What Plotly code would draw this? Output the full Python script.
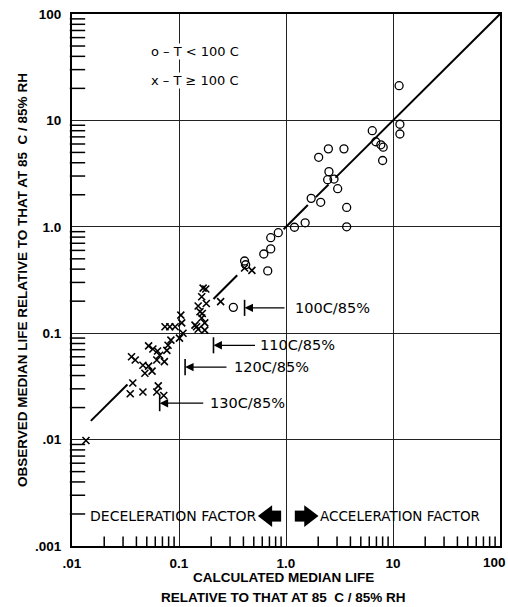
import numpy as np
import plotly.graph_objects as go

# ---------------- data ----------------
circle_x = [11.4, 11.6, 11.6, 6.4, 6.9, 7.7, 8.1, 8.0, 2.49, 3.48, 2.02, 2.52, 2.45, 2.81,
            3.04, 1.72, 2.11, 3.69, 1.51, 1.2, 3.69, 0.847, 0.72, 0.72, 0.62, 0.41, 0.42,
            0.675, 0.322]
circle_y = [21.2, 9.2, 7.45, 8.0, 6.3, 5.9, 5.6, 4.2, 5.4, 5.4, 4.5, 3.3, 2.77, 2.81,
            2.28, 1.85, 1.70, 1.52, 1.09, 0.99, 1.0, 0.88, 0.79, 0.62, 0.555, 0.477, 0.44,
            0.385, 0.175]

cross_x = [0.178, 0.163, 0.18, 0.151, 0.157, 0.165, 0.163, 0.174, 0.141, 0.151, 0.174,
           0.168, 0.146, 0.104, 0.106, 0.109, 0.101, 0.074, 0.082, 0.092, 0.084, 0.079,
           0.077, 0.052, 0.057, 0.063, 0.066, 0.062, 0.073, 0.036, 0.039, 0.046, 0.052,
           0.048, 0.056, 0.037, 0.035, 0.046, 0.064, 0.062, 0.072, 0.0135, 0.245, 0.41,
           0.48]
cross_y = [0.26, 0.22, 0.19, 0.18, 0.159, 0.153, 0.139, 0.125, 0.119, 0.109, 0.107,
           0.265, 0.115, 0.148, 0.125, 0.100, 0.090, 0.115, 0.115, 0.115, 0.086, 0.077,
           0.069, 0.076, 0.071, 0.068, 0.062, 0.056, 0.054, 0.060, 0.056, 0.050, 0.049,
           0.042, 0.044, 0.034, 0.027, 0.028, 0.032, 0.028, 0.026, 0.0098, 0.198, 0.41,
           0.39]

# y = x reference line, drawn in pieces (gaps where points sit)
diag_start = [0.015, 0.21, 0.95, 1.9, 2.9]
diag_end = [0.033, 0.35, 1.6, 2.5, 100]

# temperature markers: label, bar x, y, arrow tail x
temp_labels = ["100C/85%", "110C/85%", "120C/85%", "130C/85%"]
temp_bar_x = [0.41, 0.21, 0.114, 0.066]
temp_y = [0.173, 0.077, 0.048, 0.022]
temp_tail_x = [1.0, 0.53, 0.287, 0.174]
temp_text_x = [1.16, 0.547, 0.313, 0.187]

x_tickvals = [0.01, 0.1, 1, 10, 100]
x_ticktext = [".01", "0.1", "1.0", "10", "100"]
y_tickvals = [0.001, 0.01, 0.1, 1, 10, 100]
y_ticktext = [".001", ".01", "0.1", "1.0", "10", "100"]
minor_mult = [2, 3, 4, 5, 6, 7, 8, 9]

factor_labels = ["DECELERATION FACTOR", "ACCELERATION FACTOR"]
factor_y = 0.00191

legend_labels = ["o – T < 100 C", "x – T ≥ 100 C"]

X_RANGE = [-2, 2]
Y_RANGE = [-3, 2]
FONT = "DejaVu Sans"
BOLD = "Liberation Sans"
TICKFONT = dict(family=BOLD, size=13.5, color="black", weight="bold")


def minor_vals(lo, hi):
    return [m * 10.0 ** e for e in range(lo, hi) for m in minor_mult]


fig = go.Figure()

# diagonal
dx, dy = [], []
for a, b in zip(diag_start, diag_end):
    dx += [a, b, None]
    dy += [a, b, None]
fig.add_trace(go.Scatter(x=dx, y=dy, mode="lines", line=dict(color="black", width=2),
                         showlegend=False, hoverinfo="skip"))

fig.add_trace(go.Scatter(x=circle_x, y=circle_y, mode="markers", name="T < 100 C",
                         marker=dict(symbol="circle-open", size=8, color="black",
                                     line=dict(width=1.3)), showlegend=False))
fig.add_trace(go.Scatter(x=cross_x, y=cross_y, mode="markers", name="T ≥ 100 C",
                         marker=dict(symbol="x-thin-open", size=7, color="black",
                                     line=dict(width=1.6)), showlegend=False))

# bars for temperature markers
bx, by = [], []
for xv, yv in zip(temp_bar_x, temp_y):
    bx += [xv, xv, None]
    by += [yv / 1.19, yv * 1.19, None]
fig.add_trace(go.Scatter(x=bx, y=by, mode="lines", line=dict(color="black", width=1.6),
                         showlegend=False, hoverinfo="skip"))

annotations = []
for lab, xb, yv, xt, xtext in zip(temp_labels, temp_bar_x, temp_y, temp_tail_x, temp_text_x):
    annotations.append(dict(x=np.log10(xb), y=np.log10(yv), ax=np.log10(xt), ay=np.log10(yv),
                            xref="x", yref="y", axref="x", ayref="y", text="",
                            showarrow=True, arrowhead=2, arrowsize=1.3, arrowwidth=1.3,
                            arrowcolor="black", standoff=0))
    annotations.append(dict(x=np.log10(xtext), y=np.log10(yv), xref="x", yref="y", text=lab,
                            showarrow=False, xanchor="left", yanchor="middle",
                            font=dict(family=FONT, size=14.5, color="black")))

# big arrows for deceleration / acceleration
arrow_body_x = [0.80, 1.36]
arrow_head_x = [0.67, 1.64]
fig.add_trace(go.Scatter(x=arrow_body_x, y=[factor_y] * 2, mode="markers",
                         marker=dict(symbol="square", size=11, color="black"),
                         showlegend=False, hoverinfo="skip"))
fig.add_trace(go.Scatter(x=arrow_head_x[:1], y=[factor_y], mode="markers",
                         marker=dict(symbol="triangle-left", size=19, color="black"),
                         showlegend=False, hoverinfo="skip"))
fig.add_trace(go.Scatter(x=arrow_head_x[1:], y=[factor_y], mode="markers",
                         marker=dict(symbol="triangle-right", size=19, color="black"),
                         showlegend=False, hoverinfo="skip"))

# minor tick marks (2..9 in each decade) as short line markers just inside the axes
x0 = 10.0 ** X_RANGE[0]
y0 = 10.0 ** Y_RANGE[0]
y_minor = minor_vals(Y_RANGE[0], Y_RANGE[1])
x_minor = minor_vals(X_RANGE[0], X_RANGE[1])
fig.add_trace(go.Scatter(x=[x0 * 1.125] * len(y_minor), y=y_minor, mode="markers",
                         marker=dict(symbol="line-ew", size=11, color="black",
                                     line=dict(color="black", width=1.5)),
                         cliponaxis=False, showlegend=False, hoverinfo="skip"))
fig.add_trace(go.Scatter(x=x_minor, y=[y0 * 1.09] * len(x_minor), mode="markers",
                         marker=dict(symbol="line-ns", size=8, color="black",
                                     line=dict(color="black", width=1.5)),
                         cliponaxis=False, showlegend=False, hoverinfo="skip"))

annotations.append(dict(x=np.log10(0.56), y=np.log10(factor_y), xref="x", yref="y",
                        text=factor_labels[0], showarrow=False, xanchor="right",
                        yanchor="middle", font=dict(family=FONT, size=14, color="black")))
annotations.append(dict(x=np.log10(1.97), y=np.log10(factor_y), xref="x", yref="y",
                        text=factor_labels[1], showarrow=False, xanchor="left",
                        yanchor="middle", font=dict(family=FONT, size=13.5, color="black")))

# legend text
for lab, yv in zip(legend_labels, [44, 23.5]):
    annotations.append(dict(x=np.log10(0.0536), y=np.log10(yv), xref="x", yref="y",
                            text=lab, showarrow=False, xanchor="left", bgcolor="white",
                            borderpad=0,
                            font=dict(family=FONT, size=13, color="black")))

# last x tick label, kept inside the page
annotations.append(dict(x=1.018, y=-0.014, xref="paper", yref="paper",
                        text=x_ticktext[-1], showarrow=False, xanchor="right",
                        yanchor="top", font=TICKFONT))

# axis titles
annotations.append(dict(x=-0.117, y=0.5, xref="paper", yref="paper", textangle=-90,
                        text="OBSERVED MEDIAN LIFE RELATIVE TO THAT AT 85  C / 85% RH",
                        showarrow=False, xanchor="center", yanchor="middle",
                        font=dict(family=BOLD, size=13.5, color="black", weight="bold")))
annotations.append(dict(x=0.495, y=-0.060, xref="paper", yref="paper",
                        text="CALCULATED MEDIAN LIFE", showarrow=False,
                        xanchor="center", yanchor="middle",
                        font=dict(family=BOLD, size=13.5, color="black", weight="bold")))
annotations.append(dict(x=0.495, y=-0.097, xref="paper", yref="paper",
                        text="RELATIVE TO THAT AT 85  C / 85% RH", showarrow=False,
                        xanchor="center", yanchor="middle",
                        font=dict(family=BOLD, size=13.5, color="black", weight="bold")))

axis_common = dict(type="log", showgrid=True, gridcolor="#222", gridwidth=1,
                   showline=True, linecolor="black", linewidth=2, mirror=True,
                   ticks="", zeroline=False, automargin=False,
                   tickfont=TICKFONT)

fig.update_layout(
    width=508, height=607,
    margin=dict(l=72, r=8, t=14, b=61, autoexpand=False),
    paper_bgcolor="white", plot_bgcolor="white",
    xaxis=dict(range=X_RANGE, tickmode="array", tickvals=x_tickvals,
               ticktext=x_ticktext[:-1] + [""],
               ticklabelstandoff=4, **axis_common),
    yaxis=dict(range=Y_RANGE, tickmode="array", tickvals=y_tickvals, ticktext=y_ticktext,
               ticklabelstandoff=6, **axis_common),
    annotations=annotations,
    showlegend=False,
)

fig.write_html("out.html")
